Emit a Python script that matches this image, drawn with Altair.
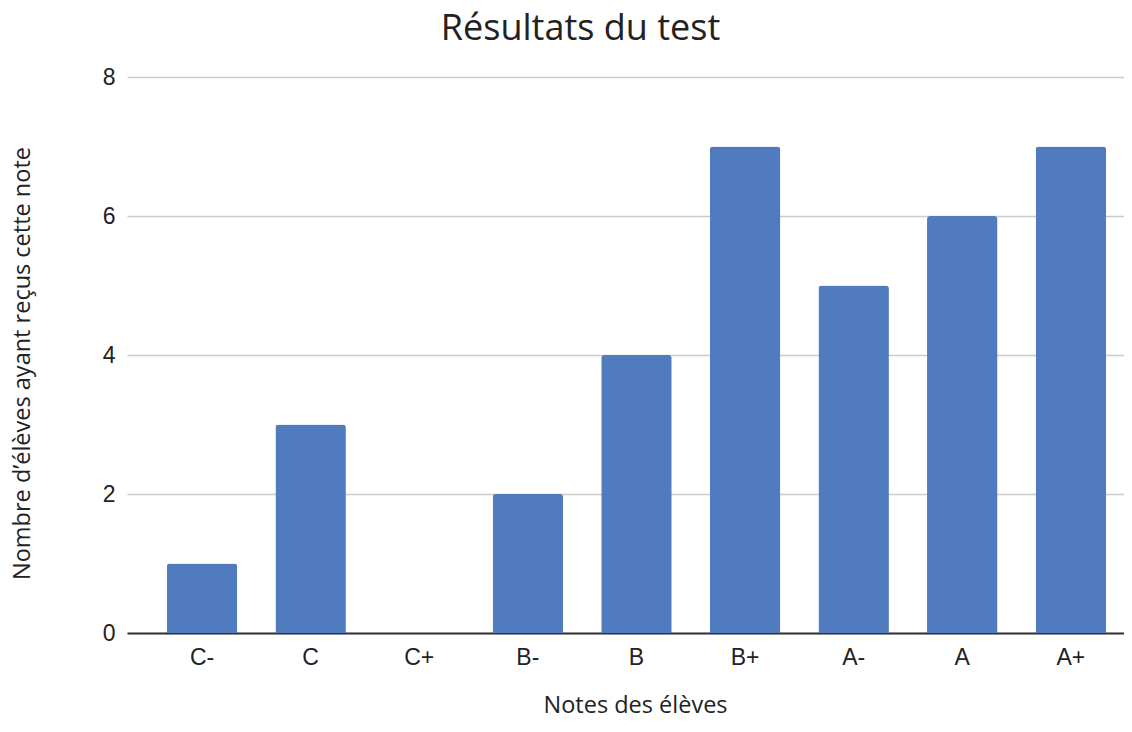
import altair as alt
import pandas as pd

notes = ["C-", "C", "C+", "B-", "B", "B+", "A-", "A", "A+"]
counts = [1, 3, 0, 2, 4, 7, 5, 6, 7]

df = pd.DataFrame({"note": notes, "count": counts})

chart = alt.Chart(df).mark_bar(color="#517bbf", cornerRadiusTopLeft=3, cornerRadiusTopRight=3).encode(
    x=alt.X("note:N", sort=notes, title="Notes des élèves",
            scale=alt.Scale(paddingInner=0.351, paddingOuter=0.2655, align=0.69),
            axis=alt.Axis(labelAngle=0, labelFont="Liberation Sans", labelFontSize=23, labelColor="#222",
                          labelPadding=13, ticks=False, domainColor="#333", domainWidth=2,
                          titleFont="Open Sans", titleFontSize=23.5, titleFontWeight="normal", titleColor="#222",
                          titlePadding=24, titleX=508, grid=False)),
    y=alt.Y("count:Q", title="Nombre d\u2019élèves ayant reçus cette note",
            scale=alt.Scale(domain=[0, 8], nice=False),
            axis=alt.Axis(values=[0, 2, 4, 6, 8], labelFont="Liberation Sans", labelFontSize=23, labelColor="#222",
                          labelPadding=12, ticks=False, domain=False, gridColor="#cccccc", gridWidth=1.5,
                          titleFont="Open Sans", titleFontSize=23.5, titleFontWeight="normal", titleColor="#222",
                          titlePadding=68, titleY=286)),
).properties(
    width=997, height=556,
    title=alt.TitleParams("Résultats du test", font="Open Sans", fontSize=36, fontWeight="normal", color="#222",
                          offset=18, dx=-45),
    autosize=alt.AutoSizeParams(type="none"),
    padding={"left": 119, "top": 69, "right": 0, "bottom": 83},
).configure_view(stroke=None)

chart.save("out.html", embed_options={"renderer": "svg", "actions": False})
